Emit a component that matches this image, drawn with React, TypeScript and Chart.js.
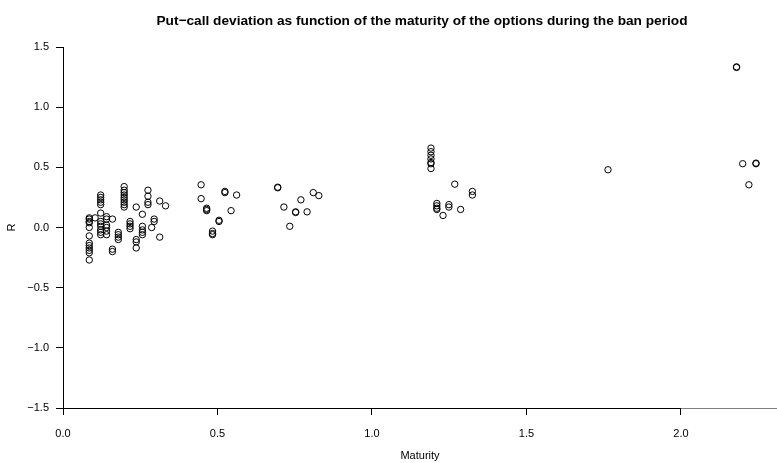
import React, { useEffect, useRef } from "react";
import { Chart, registerables } from "chart.js";

Chart.register(...registerables);

const chartTitle =
  "Put\u2212call deviation as function of the maturity of the options during the ban period";
const xAxisTitle = "Maturity";
const yAxisTitle = "R";
const xTickValues = [0, 0.5, 1, 1.5, 2];
const yTickValues = [-1.5, -1, -0.5, 0, 0.5, 1, 1.5];
const xMin = 0;
const xMax = 2.311;
const yMin = -1.5;
const yMax = 1.5;

// Maturity values (years) and the R values observed at each maturity
const maturities = [
  0.085, 0.104, 0.122, 0.141, 0.16, 0.179, 0.198, 0.217, 0.237, 0.257, 0.275,
  0.287, 0.295, 0.313, 0.332, 0.447, 0.465, 0.484, 0.505, 0.524, 0.544, 0.562,
  0.695, 0.715, 0.734, 0.753, 0.77, 0.79, 0.81, 0.828, 1.191, 1.21, 1.23,
  1.249, 1.268, 1.287, 1.325, 1.764, 2.18, 2.2, 2.22, 2.243,
];
const rValues = [
  [0.08, 0.07, 0.05, 0.04, 0.0, -0.07, -0.13, -0.15, -0.17, -0.19, -0.21, -0.27],
  [0.08],
  [0.27, 0.25, 0.23, 0.21, 0.19, 0.12, 0.05, 0.03, 0.01, -0.02, -0.04, -0.06],
  [0.09, 0.07, 0.02, 0.0, -0.03, -0.06],
  [0.07, -0.18, -0.2],
  [-0.04, -0.06, -0.08, -0.1],
  [0.34, 0.31, 0.29, 0.27, 0.25, 0.23, 0.21, 0.19, 0.17],
  [0.05, 0.03, 0.01, -0.01],
  [0.17, -0.1, -0.12, -0.17],
  [0.11, 0.01, -0.02, -0.04, -0.06],
  [0.31, 0.26, 0.21, 0.19],
  [0.0],
  [0.07, 0.05],
  [0.22, -0.08],
  [0.18],
  [0.355, 0.24],
  [0.16, 0.15, 0.14],
  [-0.03, -0.05, -0.06],
  [0.06, 0.05],
  [0.3, 0.29],
  [0.14],
  [0.27],
  [0.335, 0.33],
  [0.17],
  [0.01],
  [0.13, 0.125],
  [0.23],
  [0.13],
  [0.29],
  [0.265],
  [0.66, 0.63, 0.6, 0.57, 0.54, 0.53, 0.49],
  [0.2, 0.18, 0.16, 0.15],
  [0.1],
  [0.19, 0.17],
  [0.36],
  [0.15],
  [0.3, 0.27],
  [0.48],
  [1.335, 1.33],
  [0.53],
  [0.355],
  [0.535, 0.53],
];

const FONT = "'Liberation Sans', Arial, Helvetica, sans-serif";

const fmt = (v: number) => Number(v).toFixed(1).replace("-", "\u2212");

const titlePlugin = {
  id: "rTitle",
  afterDraw(chart: any) {
    const ctx = chart.ctx;
    ctx.save();
    ctx.font = `bold 13.7px ${FONT}`;
    ctx.fillStyle = "#000";
    ctx.textAlign = "center";
    ctx.textBaseline = "alphabetic";
    const { left, right } = chart.chartArea;
    ctx.fillText(chartTitle, (left + right) / 2 + 2, 25);
    ctx.restore();
  },
};

const axisLinePlugin = {
  id: "rAxisLines",
  afterDraw(chart: any) {
    const ctx = chart.ctx;
    const xs = chart.scales.x;
    const ys = chart.scales.y;
    ctx.save();
    ctx.strokeStyle = "#000";
    ctx.lineWidth = 1;
    const yb = Math.round(ys.getPixelForValue(yMin)) + 0.5;
    ctx.beginPath();
    ctx.moveTo(xs.getPixelForValue(xTickValues[0]), yb);
    ctx.lineTo(xs.getPixelForValue(xTickValues[xTickValues.length - 1]), yb);
    ctx.stroke();
    const xl = Math.round(xs.getPixelForValue(xMin)) + 0.5;
    ctx.beginPath();
    ctx.moveTo(xl, ys.getPixelForValue(yTickValues[0]));
    ctx.lineTo(xl, ys.getPixelForValue(yTickValues[yTickValues.length - 1]));
    ctx.stroke();
    ctx.restore();
  },
};

export default function App() {
  const ref = useRef<HTMLCanvasElement | null>(null);

  useEffect(() => {
    if (!ref.current) return;
    const points = maturities.flatMap((m, i) => rValues[i].map((r) => ({ x: m, y: r })));
    const chart = new Chart(ref.current, {
      type: "scatter",
      data: {
        datasets: [
          {
            data: points,
            pointStyle: "circle",
            pointRadius: 3.2,
            pointHoverRadius: 3.2,
            borderWidth: 1,
            borderColor: "#000",
            backgroundColor: "rgba(0,0,0,0)",
          },
        ],
      },
      options: {
        responsive: false,
        animation: false,
        events: [],
        layout: { autoPadding: false, padding: { top: 47, left: 0, right: 0, bottom: 0 } },
        plugins: {
          legend: { display: false },
          tooltip: { enabled: false },
          title: { display: false },
        },
        scales: {
          x: {
            type: "linear",
            min: xMin,
            max: xMax,
            afterBuildTicks: (s: any) => {
              s.ticks = xTickValues.map((v) => ({ value: v }));
            },
            afterFit: (s: any) => {
              s.height = 55;
              s.paddingLeft = 0;
              s.paddingRight = 0;
            },
            grid: {
              drawOnChartArea: false,
              drawTicks: true,
              tickLength: 7,
              color: "#000",
              tickColor: "#000",
            },
            border: { display: true, color: "#808080", width: 1 },
            ticks: {
              color: "#000",
              font: { family: FONT, size: 11 },
              padding: 12,
              maxRotation: 0,
              autoSkip: false,
              callback: (v: any) => fmt(v),
            },
            title: {
              display: true,
              text: xAxisTitle,
              color: "#000",
              font: { family: FONT, size: 11 },
              padding: { top: 0, bottom: 0 },
            },
          },
          y: {
            type: "linear",
            min: yMin,
            max: yMax,
            afterBuildTicks: (s: any) => {
              s.ticks = yTickValues.map((v) => ({ value: v }));
            },
            afterFit: (s: any) => {
              s.width = 63;
            },
            grid: {
              drawOnChartArea: false,
              drawTicks: true,
              tickLength: 7,
              color: "#000",
              tickColor: "#000",
            },
            border: { display: true, color: "#000", width: 1 },
            ticks: {
              color: "#000",
              font: { family: FONT, size: 11 },
              padding: 7,
              autoSkip: false,
              callback: (v: any) => fmt(v),
            },
            title: {
              display: true,
              text: yAxisTitle,
              color: "#000",
              font: { family: FONT, size: 11 },
              padding: { top: 5, bottom: 0 },
            },
          },
        },
      },
      plugins: [titlePlugin, axisLinePlugin],
    } as any);
    return () => chart.destroy();
  }, []);

  return (
    <div
      style={{
        position: "fixed",
        left: 0,
        top: 0,
        width: 777,
        height: 463,
        background: "#fff",
      }}
    >
      <canvas ref={ref} width={777} height={463} style={{ width: 777, height: 463, display: "block" }} />
    </div>
  );
}
